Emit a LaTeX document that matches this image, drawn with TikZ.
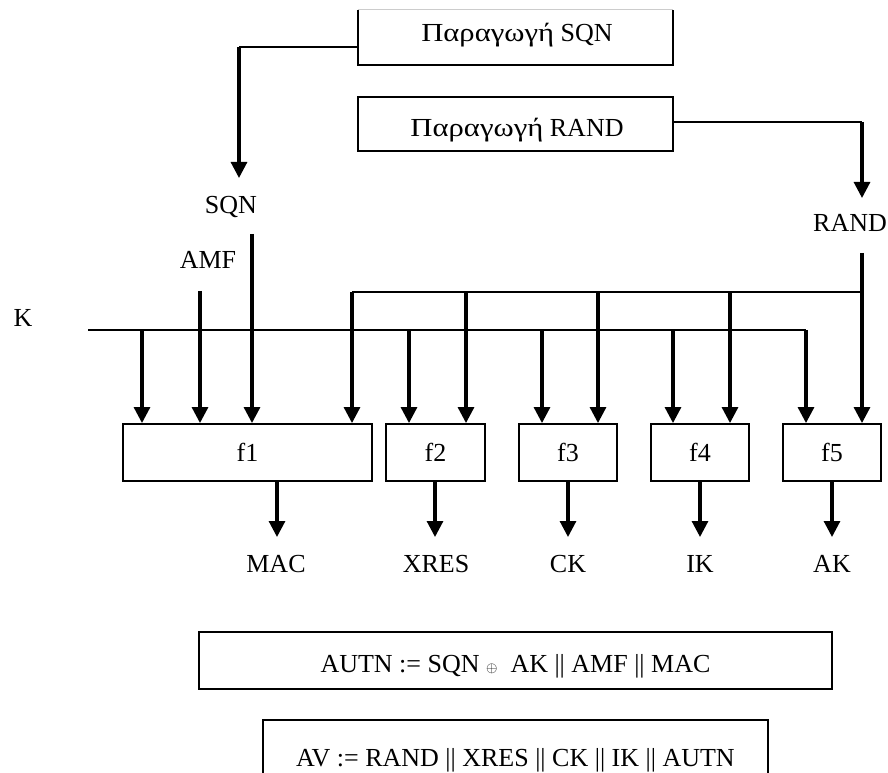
\documentclass[tikz,border=0pt]{standalone}
\usepackage{fontspec}
\setmainfont{Liberation Serif}
\usetikzlibrary{arrows.meta,calc}
\newcommand{\grw}[1]{\scalebox{1.18}[1]{#1}}
\begin{document}
\begin{tikzpicture}[x=0.75pt,y=-0.75pt,
  every node/.style={font=\fontsize{19.5}{22}\selectfont},
  box/.style={draw,line width=1.4pt,inner sep=0pt},
  fbox/.style={box,minimum height=42.75pt,minimum width=73.5pt},
  lbl/.style={anchor=base,inner sep=0pt},
  bus/.style={line width=1.5pt},
  arr/.style={line width=2.3pt,-{Triangle[width=12pt,length=12pt]}},
  feed/.style={line width=2.3pt}]
\useasboundingbox (0,0) rectangle (888,773);

% generator boxes
\node[minimum width=236.25pt,minimum height=41.25pt,inner sep=0pt] (sqnbox) at (515.5,37.5) {};
\draw[line width=1.4pt] (sqnbox.north west) -- (sqnbox.south west) -- (sqnbox.south east) -- (sqnbox.north east);
\draw[line width=0.8pt,black!20] (sqnbox.north west) -- (sqnbox.north east);
\node[lbl] (sqntxt) at (517,42) {\grw{Παραγωγή} SQN};
\node[box,minimum width=236.25pt,minimum height=40.5pt] (randbox) at (515.5,124) {};
\node[lbl] (randtxt) at (517,137) {\grw{Παραγωγή} RAND};

% labels
\node[lbl] (sqn) at (231,214) {SQN};
\node[lbl] (amf) at (208,269) {AMF};
\node[lbl] (k) at (23,327) {K};
\node[lbl] (rand) at (850,232) {RAND};

% function boxes
\node[fbox,minimum width=186.75pt] (f1) at (247.5,452.5) {f1};
\node[fbox,minimum width=74.25pt] (f2) at (435.5,452.5) {f2};
\node[fbox] (f3) at (568,452.5) {f3};
\node[fbox] (f4) at (700,452.5) {f4};
\node[fbox] (f5) at (832,452.5) {f5};

% outputs
\node[lbl] (mac) at (276,572) {MAC};
\node[lbl] (xres) at (436,572) {XRES};
\node[lbl] (ck) at (568,572) {CK};
\node[lbl] (ik) at (700,572) {IK};
\node[lbl] (ak) at (832,572) {AK};

% formula boxes
\node[box,minimum width=474.75pt,minimum height=42.75pt] (autnbox) at (515.5,660.5) {};
\node[lbl] (autntxt) at (515.5,672) {AUTN := SQN {\fontsize{10.5}{11}\selectfont$\oplus$}\ \ AK || AMF || MAC};
\node[box,minimum width=378.75pt,minimum height=52.5pt] (avbox) at (515.5,755) {};
\node[lbl] (avtxt) at (515.5,766) {AV := RAND || XRES || CK || IK || AUTN};

% coordinates
\coordinate (sqnbend) at (239,47);
\coordinate (sqntip) at (239,178);
\coordinate (randbend) at (862,122);
\coordinate (randtip) at (862,198);
\coordinate (randtop) at (862,253);
\coordinate (rbus) at (862,292);
\coordinate (r1) at (352,292);
\coordinate (r2) at (466,292);
\coordinate (r3) at (598,292);
\coordinate (r4) at (730,292);
\coordinate (kstart) at (88,330);
\coordinate (kend) at (806,330);
\coordinate (k1) at (142,330);
\coordinate (k2) at (409,330);
\coordinate (k3) at (542,330);
\coordinate (k4) at (673,330);
\coordinate (amftop) at (200,291);
\coordinate (sqntop) at (252,234);
\coordinate (o1) at (277,537);
\coordinate (o2) at (435,537);
\coordinate (o3) at (568,537);
\coordinate (o4) at (700,537);
\coordinate (o5) at (832,537);

% generator connectors
\draw[bus] (sqnbox.west |- sqnbend) -- (sqnbend);
\draw[arr] (sqnbend) -- (sqntip);
\draw[bus] (randbox.east |- randbend) -- (randbend);
\draw[arr] (randbend) -- (randtip);

% RAND bus
\draw[arr] (randtop) -- (f5.north -| randtop);
\draw[bus] (rbus) -- (r1);
\draw[arr] (r1) -- (f1.north -| r1);
\draw[arr] (r2) -- (f2.north -| r2);
\draw[arr] (r3) -- (f3.north -| r3);
\draw[arr] (r4) -- (f4.north -| r4);

% K bus
\draw[bus] (kstart) -- (kend);
\draw[arr] (kend) -- (f5.north -| kend);
\draw[arr] (k1) -- (f1.north -| k1);
\draw[arr] (k2) -- (f2.north -| k2);
\draw[arr] (k3) -- (f3.north -| k3);
\draw[arr] (k4) -- (f4.north -| k4);

% AMF and SQN
\draw[arr] (amftop) -- (f1.north -| amftop);
\draw[arr] (sqntop) -- (f1.north -| sqntop);

% outputs
\draw[arr] (f1.south -| o1) -- (o1);
\draw[arr] (f2.south -| o2) -- (o2);
\draw[arr] (f3.south -| o3) -- (o3);
\draw[arr] (f4.south -| o4) -- (o4);
\draw[arr] (f5.south -| o5) -- (o5);
\end{tikzpicture}
\end{document}
